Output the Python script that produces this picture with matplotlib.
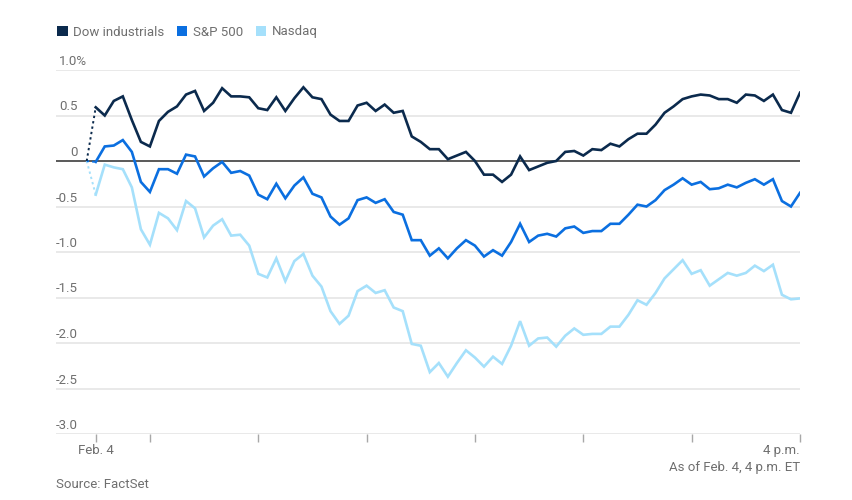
import numpy as np
import matplotlib
matplotlib.use("Agg")
import matplotlib.pyplot as plt
from matplotlib.patches import Patch

plt.rcParams['font.family'] = ['Roboto', 'DejaVu Sans']

# minutes after the 9:30 open, one reading every 5 minutes up to 4 p.m.
minutes = np.arange(0, 391, 5)
prev_close_min = -5
prev_close = 0.0

dow = [0.59, 0.50, 0.66, 0.71, 0.45, 0.21, 0.16, 0.44, 0.54, 0.60,
       0.73, 0.77, 0.55, 0.64, 0.80, 0.71, 0.71, 0.70, 0.58, 0.56,
       0.70, 0.55, 0.69, 0.81, 0.70, 0.68, 0.51, 0.44, 0.44, 0.61,
       0.64, 0.55, 0.62, 0.53, 0.55, 0.27, 0.21, 0.13, 0.13, 0.02,
       0.06, 0.10, 0.00, -0.15, -0.15, -0.23, -0.15, 0.05, -0.10, -0.06,
       -0.02, 0.00, 0.10, 0.11, 0.06, 0.13, 0.12, 0.19, 0.16, 0.24,
       0.30, 0.30, 0.40, 0.53, 0.60, 0.68, 0.71, 0.73, 0.72, 0.68,
       0.68, 0.64, 0.73, 0.72, 0.66, 0.73, 0.56, 0.53, 0.75]

sp500 = [-0.01, 0.16, 0.17, 0.23, 0.10, -0.23, -0.34, -0.09, -0.09, -0.14,
         0.07, 0.05, -0.17, -0.08, -0.01, -0.13, -0.11, -0.16, -0.37, -0.42,
         -0.25, -0.41, -0.27, -0.18, -0.36, -0.40, -0.61, -0.70, -0.63, -0.43,
         -0.40, -0.46, -0.42, -0.56, -0.59, -0.87, -0.87, -1.04, -0.96, -1.07,
         -0.96, -0.87, -0.93, -1.05, -0.98, -1.04, -0.89, -0.69, -0.89, -0.82,
         -0.80, -0.83, -0.74, -0.72, -0.79, -0.77, -0.77, -0.69, -0.69, -0.59,
         -0.48, -0.50, -0.43, -0.32, -0.26, -0.19, -0.26, -0.23, -0.31, -0.30,
         -0.26, -0.29, -0.24, -0.20, -0.26, -0.20, -0.44, -0.50, -0.35]

nasdaq = [-0.37, -0.04, -0.07, -0.09, -0.29, -0.75, -0.92, -0.57, -0.63, -0.76,
          -0.44, -0.52, -0.84, -0.71, -0.64, -0.82, -0.81, -0.93, -1.24, -1.28,
          -1.07, -1.32, -1.10, -1.02, -1.26, -1.38, -1.65, -1.79, -1.70, -1.43,
          -1.37, -1.45, -1.42, -1.61, -1.65, -2.01, -2.03, -2.32, -2.22, -2.37,
          -2.22, -2.08, -2.16, -2.26, -2.15, -2.23, -2.03, -1.76, -2.03, -1.95,
          -1.94, -2.04, -1.92, -1.84, -1.91, -1.90, -1.90, -1.82, -1.82, -1.69,
          -1.53, -1.58, -1.45, -1.29, -1.19, -1.09, -1.24, -1.20, -1.37, -1.30,
          -1.23, -1.26, -1.23, -1.15, -1.21, -1.14, -1.47, -1.52, -1.51]

names = ['Dow industrials', 'S&P 500', 'Nasdaq']
colors = ['#0b2a4d', '#0b6fe0', '#a5e0fb']

yticks = [1.0, 0.5, 0, -0.5, -1.0, -1.5, -2.0, -2.5, -3.0]
ytick_labels = ['1.0%', '0.5', '0', '-0.5', '-1.0', '-1.5', '-2.0', '-2.5', '-3.0']
xticks = [0, 30, 90, 150, 210, 270, 330, 390]

txt = '#6f6f6f'
W, H = 852, 500

fig = plt.figure(figsize=(W / 100, H / 100), dpi=100)
ax = fig.add_axes([56 / W, 1 - 434 / H, (800 - 56) / W, (434 - 70) / H])

for y in yticks:
    ax.axhline(y, color='#e3e3e3', lw=1.1, zorder=1)
ax.axhline(0, color='#5a5a5a', lw=1.4, zorder=2)

for vals, c in zip([nasdaq, sp500, dow], colors[::-1]):
    ax.plot([prev_close_min, minutes[0]], [prev_close, vals[0]], color=c,
            lw=1.4, ls=(0, (1.2, 1.6)), zorder=3)
    ax.plot(minutes, vals, color=c, lw=1.9, zorder=4, solid_joinstyle='miter')

ax.set_xlim(-22, 390)
ax.set_ylim(-3.0, 1.0)
for s in ax.spines.values():
    s.set_visible(False)
ax.set_yticks([])
ax.set_xticks(xticks)
ax.set_xticklabels([''] * len(xticks))
ax.tick_params(axis='x', length=6, width=1, color='#a8a8a8', direction='out')

# y labels sit above their gridlines
for y, lab in zip(yticks, ytick_labels):
    if lab.endswith('%'):
        ax.annotate(lab, (0, y), xycoords=('axes fraction', 'data'),
                    xytext=(3, 2), textcoords='offset pixels',
                    ha='left', va='bottom', fontsize=9.5, color=txt)
    else:
        ax.annotate(lab, (0, y), xycoords=('axes fraction', 'data'),
                    xytext=(22, 2), textcoords='offset pixels',
                    ha='right', va='bottom', fontsize=9.5, color=txt)

ax.annotate('Feb. 4', (xticks[0], -3.0), xycoords='data', xytext=(0, -10),
            textcoords='offset pixels', ha='center', va='top', fontsize=9.5, color=txt)
ax.annotate('4 p.m.', (xticks[-1], -3.0), xycoords='data', xytext=(0, -10),
            textcoords='offset pixels', ha='right', va='top', fontsize=9.5, color=txt)
fig.text(800 / W, 1 - 467 / H, 'As of Feb. 4, 4 p.m. ET', ha='right', va='center',
         fontsize=9.5, color=txt)
fig.text(56 / W, 1 - 485 / H, 'Source: FactSet', ha='left', va='center',
         fontsize=9.5, color=txt)

handles = [Patch(facecolor=c, edgecolor='none') for c in colors]
fig.legend(handles, names, loc='center left', bbox_to_anchor=(57 / W, 1 - 32 / H),
           ncol=3, frameon=False, fontsize=9.5, labelcolor=txt,
           handlelength=0.8, handleheight=0.8, handletextpad=0.42,
           columnspacing=0.95, borderaxespad=0, borderpad=0)

fig.savefig('out.png', dpi=100, facecolor='white')
